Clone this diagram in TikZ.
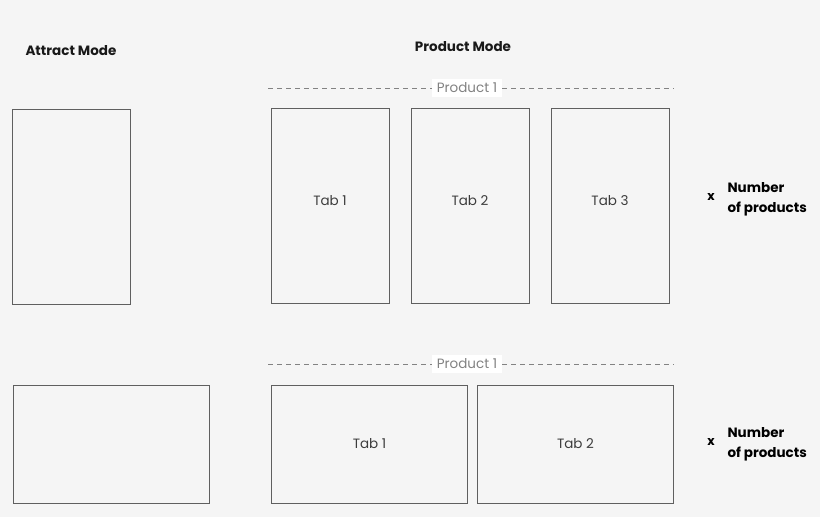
\documentclass[tikz,border=0pt]{standalone}
\usepackage{fontspec}
\setmainfont{Poppins}
\usepackage{tikz}
\usetikzlibrary{positioning}
\definecolor{pagebg}{RGB}{245, 245, 245}
\definecolor{framegray}{RGB}{95, 95, 95}
\definecolor{textgray}{RGB}{60, 60, 60}
\definecolor{labelgray}{RGB}{130, 130, 130}

\begin{document}
\begin{tikzpicture}[
    x=1pt, y=-1pt,
    screen/.style={rectangle, draw=framegray, line width=0.9pt, inner sep=0pt,
                   outer sep=0pt, font=\fontsize{13.5}{16}\selectfont, text=textgray},
    portrait/.style={screen, minimum width=118pt, minimum height=195pt},
    landscape/.style={screen, minimum width=196pt, minimum height=118pt},
    heading/.style={font=\bfseries\fontsize{13.5}{16}\selectfont, text=black!90},
    grouplabel/.style={fill=white, text=labelgray, inner xsep=5pt, inner ysep=4pt,
                       font=\fontsize{13.5}{16}\selectfont},
    groupline/.style={draw=labelgray, line width=0.8pt, dash pattern=on 5pt off 4pt},
    count/.style={font=\bfseries\fontsize{13.5}{20}\selectfont, align=left, anchor=west},
]
\fill[pagebg] (0,0) rectangle (820,517);
\useasboundingbox (0,0) rectangle (820,517);

% headings
\node[heading, anchor=west] (attract) at (22,51) {Attract Mode};
\node[heading] (product) at (463,47) {Product Mode};

% portrait row
\coordinate (pl) at (268,88);
\coordinate (pr) at (674,88);
\draw[groupline] (pl) -- (pr);
\node[grouplabel] (prodA) at (467,88) {Product 1};

\node[portrait] (attractA) at (71,206.5) {};
\node[portrait] (tabA) at (330,205.5) {};
\node[portrait, right=22pt of tabA] (tabB) {};
\node[portrait, right=22pt of tabB] (tabC) {};
\foreach \tab/\name in {tabA/Tab 1, tabB/Tab 2, tabC/Tab 3}
  \node[font=\fontsize{13.5}{16}\selectfont, text=textgray] at ([yshift=5pt]\tab.center) {\name};

\node[font=\bfseries\fontsize{12.5}{14}\selectfont] (timesA) at (711,197) {x};
\node[count] (numA) at (724,199) {Number\\of products};

% landscape row
\coordinate (ql) at (268,364);
\coordinate (qr) at (674,364);
\draw[groupline] (ql) -- (qr);
\node[grouplabel] (prodB) at (467,364) {Product 1};

\node[landscape] (attractB) at (111,444) {};
\node[landscape] (tabD) at (369.5,444) {Tab 1};
\node[landscape, right=10pt of tabD] (tabE) {Tab 2};

\node[font=\bfseries\fontsize{12.5}{14}\selectfont] (timesB) at (711,442) {x};
\node[count] (numB) at (724,444) {Number\\of products};

\end{tikzpicture}
\end{document}
